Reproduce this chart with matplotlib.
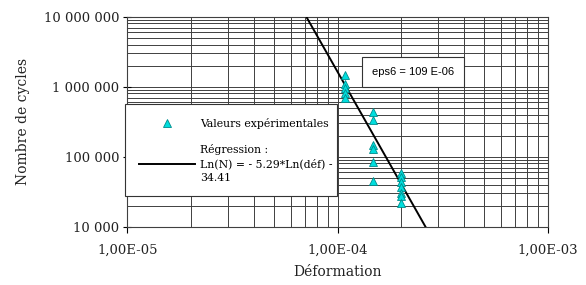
import numpy as np
import matplotlib
matplotlib.use("Agg")
import matplotlib.pyplot as plt
from matplotlib.ticker import FixedLocator, LogLocator, NullFormatter

# Valeurs
def_exp = [1.09e-4, 1.09e-4, 1.09e-4, 1.09e-4, 1.09e-4,
           1.47e-4, 1.47e-4, 1.47e-4, 1.47e-4, 1.47e-4, 1.47e-4,
           2.0e-4, 2.0e-4, 2.0e-4, 2.0e-4, 2.0e-4, 2.0e-4, 2.0e-4]
cycles_exp = [1.48e6, 1.09e6, 9.5e5, 8.2e5, 6.8e5,
              4.35e5, 3.35e5, 1.47e5, 1.27e5, 8.3e4, 4.5e4,
              5.8e4, 5.2e4, 4.4e4, 3.7e4, 3.0e4, 2.75e4, 2.16e4]

# extremites de la droite de regression
def_reg = [7.1e-5, 2.62e-4]
cycles_reg = [1e7, 1e4]

xticks = [1e-5, 1e-4, 1e-3]
xlabels = ["1,00E-05", "1,00E-04", "1,00E-03"]
yticks = [1e4, 1e5, 1e6, 1e7]
ylabels = ["10 000", "100 000", "1 000 000", "10 000 000"]

serif = "DejaVu Serif"

fig = plt.figure(figsize=(5.86, 2.85), dpi=100)
ax = fig.add_axes([0.2174, 0.2046, 0.9346 - 0.2174, 0.9414 - 0.2046])
ax.set_xscale("log")
ax.set_yscale("log")
ax.set_xlim(1e-5, 1e-3)
ax.set_ylim(1e4, 1e7)

ax.xaxis.set_major_locator(FixedLocator(xticks))
ax.yaxis.set_major_locator(FixedLocator(yticks))
ax.xaxis.set_minor_locator(LogLocator(base=10, subs=np.arange(2, 10)))
ax.yaxis.set_minor_locator(LogLocator(base=10, subs=np.arange(2, 10)))
ax.xaxis.set_minor_formatter(NullFormatter())
ax.yaxis.set_minor_formatter(NullFormatter())
ax.set_xticklabels(xlabels, family=serif, fontsize=9.5, color="#222222")
ax.set_yticklabels(ylabels, family=serif, fontsize=9.5, color="#222222")
ax.tick_params(axis="x", which="major", direction="out", length=4, width=0.8, pad=8)
ax.tick_params(axis="y", which="major", direction="inout", length=6, width=0.8, pad=3)
ax.tick_params(which="minor", length=0)

ax.grid(True, which="both", color="#404040", linewidth=0.7)
for s in ax.spines.values():
    s.set_color("#404040")
    s.set_linewidth(0.8)

pts, = ax.plot(def_exp, cycles_exp, linestyle="none", marker="^", markersize=6,
               markerfacecolor="#00dede", markeredgecolor="#008b8b", markeredgewidth=0.6,
               zorder=4)
reg, = ax.plot(def_reg, cycles_reg, color="black", linewidth=1.4, zorder=3)

ax.set_xlabel("Déformation", family=serif, fontsize=10, color="#222222", labelpad=6)
ax.set_ylabel("Nombre de cycles", family=serif, fontsize=10, color="#222222", labelpad=10)

leg = ax.legend([pts, reg],
                ["Valeurs expérimentales", "Régression :\nLn(N) = - 5.29*Ln(déf) -\n34.41"],
                loc="upper left", bbox_to_anchor=(-0.0057, 0.0, 0.504, 0.584),
                mode="expand", borderaxespad=0, frameon=True, framealpha=1,
                prop={"family": serif, "size": 7.8}, fancybox=False,
                handlelength=5.2, handletextpad=0.45, labelspacing=1.45,
                borderpad=1.25, markerscale=1.0)
for t in leg.get_texts():
    t.set_linespacing(1.4)
leg.get_frame().set_facecolor("white")
leg.get_frame().set_edgecolor("#333333")
leg.get_frame().set_linewidth(0.8)
leg.set_zorder(5)

ax.text(0.68, 0.737, "eps6 = 109 E-06", transform=ax.transAxes, family="Liberation Sans",
        fontsize=8, ha="center", va="center", zorder=6,
        bbox=dict(boxstyle="square,pad=0.9", facecolor="white", edgecolor="#333333", linewidth=0.8))

fig.savefig("out.png", dpi=100)
